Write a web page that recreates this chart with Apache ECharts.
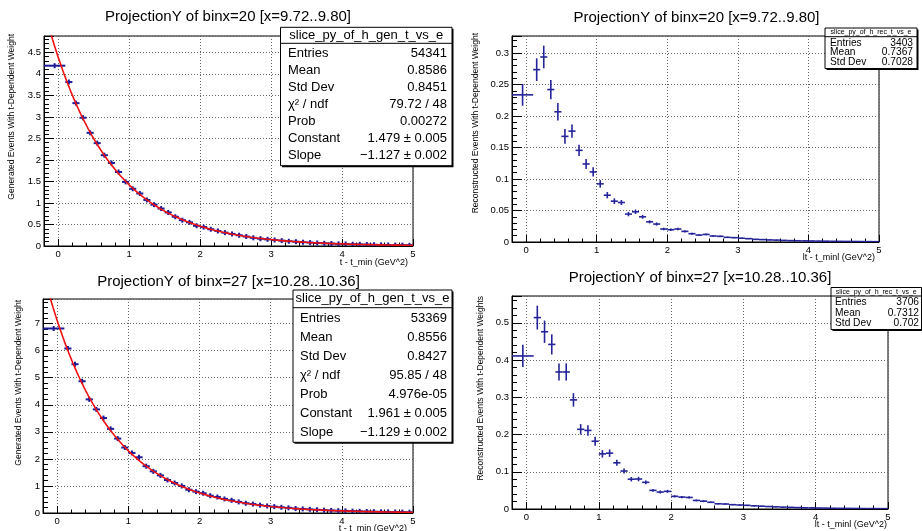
<!DOCTYPE html>
<html><head><meta charset="utf-8">
<script src="https://cdn.jsdelivr.net/npm/echarts@6/dist/echarts.min.js"></script>
<style>html,body{margin:0;padding:0;background:#fff}#c{width:922px;height:531px}</style>
</head><body><div id="c"></div>
<script>
// ---------------- data ----------------
const binEdges = [-0.2,0.1,0.2,0.3,0.4,0.5,0.6,0.7,0.8,0.9,1.0,1.1,1.2,1.3,1.4,1.5,1.6,1.7,1.8,1.9,2.0,2.1,2.2,2.3,2.4,2.5,2.6,2.7,2.8,2.9,3.0,3.1,3.2,3.3,3.4,3.5,3.6,3.7,3.8,3.9,4.0,4.1,4.2,4.3,4.4,4.5,4.6,4.7,4.8,4.9,5.0];

const genBin20 = [4.19,3.81,3.32,2.98,2.63,2.39,2.11,1.93,1.72,1.49,
 1.33,1.22,1.07,0.96,0.87,0.78,0.68,0.60,0.55,0.47,
 0.44,0.39,0.35,0.31,0.28,0.25,0.22,0.19,0.17,0.155,
 0.14,0.125,0.11,0.10,0.088,0.08,0.07,0.062,0.057,0.05,
 0.046,0.041,0.037,0.033,0.029,0.026,0.024,0.021,0.019,0.017];

const genBin27 = [6.82,6.08,5.50,4.87,4.20,3.83,3.51,3.11,2.75,2.42,
 2.22,2.06,1.73,1.54,1.39,1.22,1.11,1.00,0.86,0.79,
 0.73,0.64,0.59,0.52,0.47,0.41,0.36,0.33,0.29,0.26,
 0.235,0.21,0.19,0.165,0.15,0.135,0.12,0.105,0.095,0.085,
 0.077,0.069,0.062,0.055,0.049,0.044,0.040,0.035,0.032,0.028];

const recBin20 = [0.2336,0.2736,0.2937,0.242,0.2067,0.1677,0.176,0.1455,0.1239,0.1112,
 0.0923,0.0743,0.0648,0.0627,0.0443,0.048,0.040,0.032,0.0285,0.0206,
 0.0195,0.0206,0.0169,0.0132,0.011,0.012,0.0095,0.009,0.0074,0.0069,
 0.006,0.0053,0.0042,0.0038,0.0033,0.003,0.0026,0.0022,0.002,0.0018,
 0.0016,0.0014,0.0013,0.0011,0.001,0.0009,0.0008,0.0007,0.0006,0.0005];
const recErr20 = [0.0174,0.018,0.018,0.0153,0.014,0.0116,0.0105,0.009,0.008,0.0074,
 0.006,0.005,0.0045,0.004,0.0035,0.0035,0.003,0.0025,0.0025,0.002,
 0.002,0.002,0.0018,0.0016,0.0014,0.0014,0.0012,0.0012,0.001,0.001,
 0.0009,0.0009,0.0008,0.0008,0.0007,0.0007,0.0006,0.0006,0.0005,0.0005,
 0.0005,0.0004,0.0004,0.0004,0.0003,0.0003,0.0003,0.0003,0.0002,0.0002];

const recBin27 = [0.411,0.514,0.476,0.442,0.368,0.368,0.293,0.214,0.211,0.182,
 0.148,0.150,0.124,0.102,0.080,0.0805,0.0716,0.050,0.0456,0.0474,
 0.034,0.032,0.031,0.023,0.021,0.018,0.014,0.0134,0.0116,0.0107,
 0.0098,0.0085,0.0075,0.0066,0.0058,0.005,0.0044,0.0038,0.0033,0.003,
 0.0026,0.0023,0.002,0.0018,0.0016,0.0014,0.0012,0.0011,0.001,0.0009];
const recErr27 = [0.030,0.032,0.030,0.027,0.023,0.023,0.018,0.014,0.014,0.012,
 0.010,0.010,0.008,0.007,0.006,0.006,0.005,0.004,0.004,0.004,
 0.003,0.003,0.003,0.0025,0.0025,0.002,0.002,0.002,0.0018,0.0017,
 0.0016,0.0015,0.0014,0.0013,0.0012,0.0011,0.001,0.001,0.0009,0.0009,
 0.0008,0.0008,0.0007,0.0007,0.0006,0.0006,0.0005,0.0005,0.0005,0.0004];

// exponential fit parameters shown in the stats boxes: exp(Constant + Slope*x)
const fit20Constant = 1.479, fit20Slope = -1.127;
const fit27Constant = 1.961, fit27Slope = -1.129;

const yMaxList = [4.88, 0.327, 7.91, 0.572];
const yIntervalList = [0.5, 0.05, 1, 0.1];

const panelTitles = ['ProjectionY of binx=20 [x=9.72..9.80]', 'ProjectionY of binx=20 [x=9.72..9.80]',
                     'ProjectionY of binx=27 [x=10.28..10.36]', 'ProjectionY of binx=27 [x=10.28..10.36]'];
const xTitles = ['t - t_min (GeV^2)', 'lt - t_minl (GeV^2)', 't - t_min (GeV^2)', 'lt - t_minl (GeV^2)'];
const yTitles = ['Generated Events With t-Dependent Weight', 'Reconstructed Events With t-Dependent Weight',
                 'Generated Events With t-Dependent Weight', 'Reconstructed Events With t-Dependent Weights'];

const statsGenNames = ['slice_py_of_h_gen_t_vs_e', 'slice_py_of_h_gen_t_vs_e'];
const statsRecNames = ['slice_py_of_h_rec_t_vs_e', 'slice_py_of_h_rec_t_vs_e'];
const statsGenLabels = ['Entries', 'Mean', 'Std Dev', 'χ² / ndf', 'Prob', 'Constant', 'Slope'];
const statsGen20Values = ['54341', '0.8586', '0.8451', '79.72 / 48', '0.00272', '1.479 ± 0.005', '−1.127 ± 0.002'];
const statsGen27Values = ['53369', '0.8556', '0.8427', '95.85 / 48', '4.976e-05', '1.961 ± 0.005', '−1.129 ± 0.002'];
const statsRecLabels = ['Entries', 'Mean', 'Std Dev'];
const statsRec20Values = ['3403', '0.7367', '0.7028'];
const statsRec27Values = ['3706', '0.7312', '0.702'];

// ---------------- layout / style ----------------
const FONT = 'Liberation Sans, Arial, Helvetica, sans-serif';
const grids = [
  {left: 44, top: 36, width: 369, height: 210},
  {left: 512, top: 36, width: 367, height: 206},
  {left: 43, top: 299, width: 370, height: 214},
  {left: 512, top: 296, width: 376, height: 213}
];
const GEN_COLOR = '#1c1c9a', REC_COLOR = '#24249a', FIT_COLOR = '#f01010';

function items(values, errs) {
  return values.map((v, i) => [binEdges[i], binEdges[i + 1], v, errs ? errs[i] : 0]);
}
function crossRenderer(color, width, minHalfPx) {
  return function (params, api) {
    const lo = api.value(0), hi = api.value(1), y = api.value(2), e = api.value(3);
    const mid = (lo + hi) / 2;
    const pL = api.coord([lo, y]), pR = api.coord([hi, y]);
    const pT = api.coord([mid, y + e]), pB = api.coord([mid, y - e]);
    const half = Math.max(minHalfPx, (pB[1] - pT[1]) / 2);
    const cy = pL[1];
    return {type: 'group', children: [
      {type: 'line', shape: {x1: pL[0], y1: cy, x2: pR[0], y2: cy}, style: {stroke: color, lineWidth: width}},
      {type: 'line', shape: {x1: pT[0], y1: cy - half, x2: pT[0], y2: cy + half}, style: {stroke: color, lineWidth: width}}
    ]};
  };
}
function fitCurve(c, s) {
  const pts = [];
  for (let k = 0; k <= 260; k++) { const x = -0.2 + k * 0.02; pts.push([x, Math.exp(c + s * x)]); }
  return pts;
}

const xNameRight = [5, 4, 6, 1];
const xNamePad = [12, 11, 11, 11];
function xAxisCfg(i) {
  return {
    type: 'value', gridIndex: i, min: -0.2, max: 5, minInterval: 1, maxInterval: 1, splitNumber: 5,
    axisLine: {show: true, onZero: false, lineStyle: {color: '#000', width: 1}},
    axisTick: {show: true, inside: true, length: 7, lineStyle: {color: '#000', width: 1}},
    minorTick: {show: true, splitNumber: 5, length: 3.5, lineStyle: {color: '#000', width: 1}},
    axisLabel: {show: true, margin: 3, fontSize: 9.5, color: '#000', fontFamily: FONT, showMinLabel: false,
      formatter: v => Math.abs(v - Math.round(v)) < 1e-6 ? String(Math.round(v)) : ''},
    splitLine: {show: true, lineStyle: {color: '#666', type: [1, 2], width: 1}},
    name: xTitles[i], nameLocation: 'end', nameGap: -xNameRight[i], nameMoveOverlap: false,
    nameTextStyle: {fontSize: 9, color: '#000', fontFamily: FONT, align: 'right', verticalAlign: 'top', padding: [xNamePad[i], 0, 0, 0]}
  };
}
function yAxisCfg(i) {
  return {
    type: 'value', gridIndex: i, min: 0, max: yMaxList[i], interval: yIntervalList[i],
    axisLine: {show: true, onZero: false, lineStyle: {color: '#000', width: 1}},
    axisTick: {show: true, inside: true, length: 10, lineStyle: {color: '#000', width: 1}},
    minorTick: {show: true, splitNumber: 5, length: 5, lineStyle: {color: '#000', width: 1}},
    axisLabel: {show: true, margin: 3, fontSize: 9.5, color: '#000', fontFamily: FONT, showMaxLabel: false, showMinLabel: true},
    splitLine: {show: true, lineStyle: {color: '#666', type: [1, 2], width: 1}}
  };
}

const titleCenters = [[228, 9.5], [696.5, 10], [228.5, 274], [700, 270]];
const yTitlePos = [[12, 34], [476, 33], [19, 300], [481, 296]];

function statsBox(box, name, labels, values, f) {
  const els = [];
  els.push({type: 'rect', z: 100, shape: {x: box.x + 1.5, y: box.y + 1.5, width: box.w, height: box.h}, style: {fill: '#000'}});
  els.push({type: 'rect', z: 101, shape: {x: box.x, y: box.y, width: box.w, height: box.h}, style: {fill: '#fff', stroke: '#000', lineWidth: 1}});
  els.push({type: 'line', z: 102, shape: {x1: box.x, y1: box.sep, x2: box.x + box.w, y2: box.sep}, style: {stroke: '#000', lineWidth: 1}});
  els.push({type: 'text', z: 102, x: box.x + box.w / 2, y: box.titleY,
    style: {text: name, fontSize: f.title, fontFamily: FONT, fill: '#000', align: 'center', verticalAlign: 'middle'}});
  labels.forEach((lab, k) => {
    const y = box.row0 + k * box.pitch;
    els.push({type: 'text', z: 102, x: box.textX, y: y,
      style: {text: lab, fontSize: f.row, fontFamily: FONT, fill: '#000', align: 'left', verticalAlign: 'middle'}});
    els.push({type: 'text', z: 102, x: box.valX, y: y,
      style: {text: values[k], fontSize: f.row, fontFamily: FONT, fill: '#000', align: 'right', verticalAlign: 'middle'}});
  });
  return els;
}

const graphics = [];
yTitles.forEach((t, i) => {
  graphics.push({type: 'text', x: yTitlePos[i][0], y: yTitlePos[i][1], rotation: Math.PI / 2,
    style: {text: t, fontSize: 8.5, fontFamily: FONT, fill: '#000', align: 'right', verticalAlign: 'middle'}});
});
graphics.push(...statsBox({x: 280.5, y: 27.3, w: 171.5, h: 138.4, sep: 43.3, titleY: 35.3, row0: 53.3, pitch: 17.1, textX: 288, valX: 447},
  statsGenNames[0], statsGenLabels, statsGen20Values, {title: 13, row: 13}));
graphics.push(...statsBox({x: 293, y: 290, w: 159, h: 152.3, sep: 307.7, titleY: 298.8, row0: 318.3, pitch: 19.0, textX: 300, valX: 447},
  statsGenNames[1], statsGenLabels, statsGen27Values, {title: 13, row: 13}));
graphics.push(...statsBox({x: 825, y: 28, w: 92, h: 40.5, sep: 36.7, titleY: 32.3, row0: 42.7, pitch: 9.9, textX: 830, valX: 913},
  statsRecNames[0], statsRecLabels, statsRec20Values, {title: 7, row: 10.2}));
graphics.push(...statsBox({x: 831, y: 287.5, w: 90.5, h: 42, sep: 296, titleY: 291.7, row0: 302.6, pitch: 10.4, textX: 835, valX: 919},
  statsRecNames[1], statsRecLabels, statsRec27Values, {title: 7, row: 10.2}));

const option = {
  backgroundColor: '#fff',
  animation: false,
  title: panelTitles.map((t, i) => ({text: t, left: titleCenters[i][0], top: titleCenters[i][1], textAlign: 'center', padding: 0,
    textStyle: {fontSize: 15, fontWeight: 'normal', color: '#000', fontFamily: FONT}})),
  grid: grids.map(g => Object.assign({show: true, borderColor: '#000', borderWidth: 1, backgroundColor: 'transparent', containLabel: false, outerBoundsMode: 'none'}, g)),
  xAxis: [0, 1, 2, 3].map(xAxisCfg),
  yAxis: [0, 1, 2, 3].map(yAxisCfg),
  series: [
    {type: 'custom', xAxisIndex: 0, yAxisIndex: 0, clip: true, renderItem: crossRenderer(GEN_COLOR, 2, 2.5), encode: {x: [0, 1], y: 2}, data: items(genBin20, null)},
    {type: 'line', xAxisIndex: 0, yAxisIndex: 0, showSymbol: false, symbol: 'none', clip: true, lineStyle: {color: FIT_COLOR, width: 1.6}, data: fitCurve(fit20Constant, fit20Slope)},
    {type: 'custom', xAxisIndex: 1, yAxisIndex: 1, clip: true, renderItem: crossRenderer(REC_COLOR, 1.6, 0), encode: {x: [0, 1], y: 2}, data: items(recBin20, recErr20)},
    {type: 'custom', xAxisIndex: 2, yAxisIndex: 2, clip: true, renderItem: crossRenderer(GEN_COLOR, 2, 2.5), encode: {x: [0, 1], y: 2}, data: items(genBin27, null)},
    {type: 'line', xAxisIndex: 2, yAxisIndex: 2, showSymbol: false, symbol: 'none', clip: true, lineStyle: {color: FIT_COLOR, width: 1.6}, data: fitCurve(fit27Constant, fit27Slope)},
    {type: 'custom', xAxisIndex: 3, yAxisIndex: 3, clip: true, renderItem: crossRenderer(REC_COLOR, 1.6, 0), encode: {x: [0, 1], y: 2}, data: items(recBin27, recErr27)}
  ],
  graphic: graphics
};
const chart = echarts.init(document.getElementById('c'), null, {renderer: 'canvas'});
chart.setOption(option);
</script>
</body></html>
